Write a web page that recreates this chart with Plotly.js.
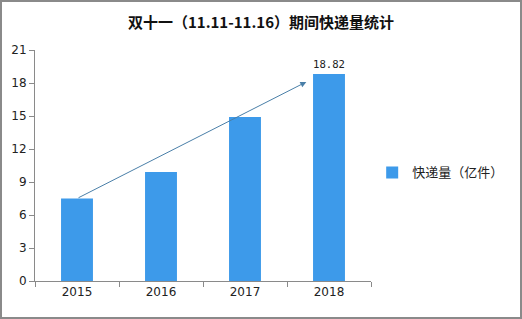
<!DOCTYPE html>
<html><head><meta charset="utf-8">
<script src="https://cdn.plot.ly/plotly-3.0.1.min.js"></script>
<style>html,body{margin:0;padding:0;background:#fff}#wrap{position:relative;width:522px;height:319px}#frame{position:absolute;left:0;top:0;width:522px;height:319px;box-sizing:border-box;border:2px solid #8a8a8a;pointer-events:none}</style>
</head><body><div id="wrap"><div id="chart" style="width:522px;height:319px"></div><div id="frame"></div></div>
<script>
const years = ['2015','2016','2017','2018'];
const volumes = [7.5, 9.9, 14.9, 18.82];
const seriesName = '快递量（亿件）';
const titleText = '双十一（11.11-11.16）期间快递量统计';
const yTicks = [0,3,6,9,12,15,18,21];

const labels = volumes.map((v,i)=> i===volumes.length-1 ? v.toFixed(2) : '');

const trace = {
  type:'bar', x: years, y: volumes, name: seriesName,
  marker:{color:'#3d9aea'}, width:0.38,
  text: labels, textposition:'outside', cliponaxis:false,
  textfont:{family:'DejaVu Sans Mono, monospace', size:12, color:'#222'},
  showlegend:true
};
const layout = {
  width:522, height:319,
  margin:{l:35, r:151, t:50, b:38, autoexpand:false},
  paper_bgcolor:'#fff', plot_bgcolor:'#fff',
  font:{family:'"Noto Sans CJK SC", "DejaVu Sans", sans-serif', color:'#222', size:12},
  title:{text:'<b>'+titleText+'</b>', x:0.5, xref:'container', xanchor:'center', y:0.93, yanchor:'middle', font:{size:15, color:'#111', family:'"Noto Sans CJK SC", sans-serif'}},
  xaxis:{type:'category', showline:true, linecolor:'#8a8a8a', linewidth:1, ticks:'outside', tickson:'boundaries', ticklen:5, tickcolor:'#8a8a8a', showgrid:false, zeroline:false, tickfont:{family:'"DejaVu Sans", sans-serif', size:12, color:'#222'}},
  yaxis:{range:[0,21], tickvals:yTicks, showline:true, linecolor:'#8a8a8a', linewidth:1, ticks:'outside', ticklen:5, tickcolor:'#8a8a8a', showgrid:false, zeroline:false, tickfont:{family:'"DejaVu Sans", sans-serif', size:12, color:'#222'}},
  legend:{xref:'container', x:0.713, xanchor:'left', yref:'paper', y:0.47, yanchor:'middle', font:{size:13, color:'#222', family:'"Noto Sans CJK SC", sans-serif'}, itemwidth:30},
  annotations:[{
    x:2.73, y:18.1, xref:'x', yref:'y',
    ax:0, ay:volumes[0], axref:'x', ayref:'y',
    showarrow:true, arrowhead:2, arrowsize:1.2, arrowwidth:1, arrowcolor:'#4a7fa8', text:''
  }]
};
Plotly.newPlot('chart',[trace],layout,{displayModeBar:false, staticPlot:true});
</script></body></html>
